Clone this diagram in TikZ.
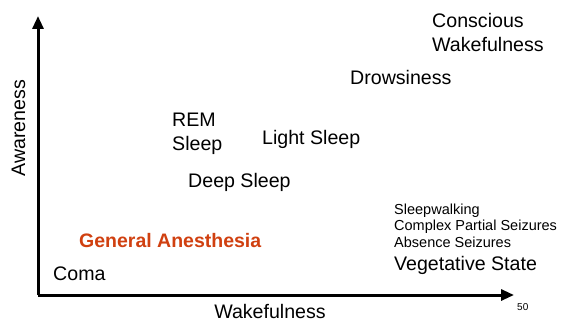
\documentclass[tikz,border=0pt]{standalone}
\usepackage{fontspec}
\setmainfont{Liberation Sans}
\usetikzlibrary{arrows.meta}
\definecolor{anes}{RGB}{208,64,16}
\begin{document}
\begin{tikzpicture}[x=1pt,y=-1pt,
  big/.style={anchor=base west,inner sep=0pt,align=left,font=\fontsize{19.6}{24}\selectfont},
  small/.style={anchor=base west,inner sep=0pt,font=\fontsize{14.5}{17}\selectfont},
  axisline/.style={line width=3pt,-{Triangle[length=13pt,width=11pt]}}]
\useasboundingbox (0,0) rectangle (561,320);
\coordinate (origin) at (38,295);
\coordinate (ytop) at (38,16);
\coordinate (xend) at (514,295);
\draw[axisline] (origin) -- (ytop);
\draw[axisline] (origin) -- (xend);
\node[big] (cw) at (432,52) {Conscious\\Wakefulness};
\node[big] (drow) at (350,85) {Drowsiness};
\node[big] (rem) at (172,151) {REM\\Sleep};
\node[big] (light) at (262,145) {Light Sleep};
\node[big] (deep) at (188,187) {Deep Sleep};
\node[small] (sw) at (394,214) {Sleepwalking};
\node[small] (cps) at (394,230.5) {Complex Partial Seizures};
\node[small] (abs) at (394,247) {Absence Seizures};
\node[big] (veg) at (394,270) {Vegetative State};
\node[big,anchor=base west,font=\fontsize{19.5}{22}\selectfont\bfseries,text=anes] (ga) at (79,247) {General Anesthesia};
\node[big] (coma) at (53,280) {Coma};
\node[big,anchor=base] (xl) at (270,318) {Wakefulness};
\node[big,anchor=base,rotate=90] (yl) at (25,128) {Awareness};
\node[anchor=base west,inner sep=0pt,font=\fontsize{10}{12}\selectfont] (pg) at (517,310) {50};
\end{tikzpicture}
\end{document}
